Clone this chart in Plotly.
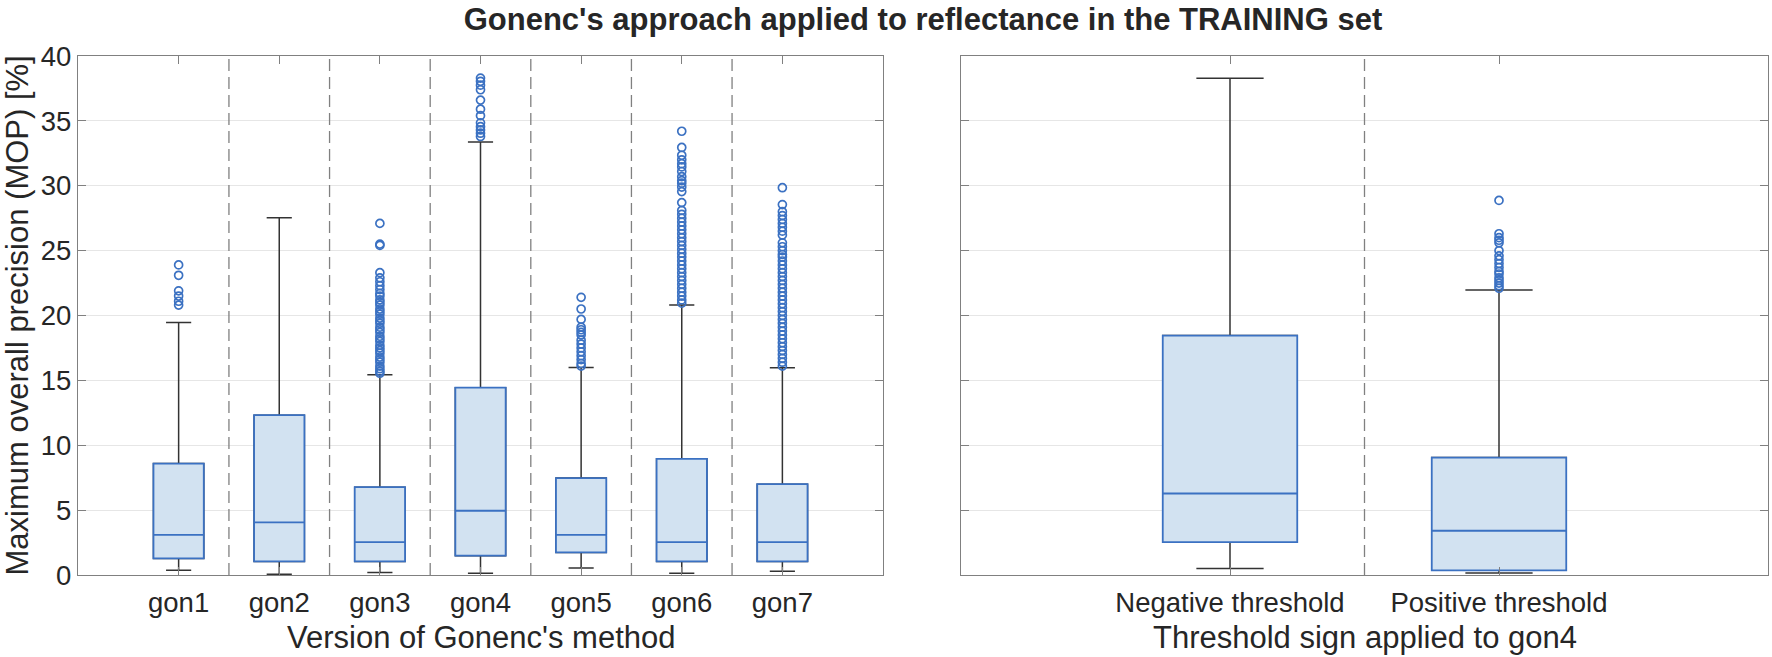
import plotly.graph_objects as go

# ---------------- data ----------------
left_cats = ["gon1", "gon2", "gon3", "gon4", "gon5", "gon6", "gon7"]
left_q1 = [1.28, 1.05, 1.05, 1.49, 1.74, 1.05, 1.05]
left_median = [3.1, 4.05, 2.54, 4.95, 3.1, 2.54, 2.54]
left_q3 = [8.59, 12.32, 6.77, 14.44, 7.47, 8.95, 7.0]
left_lower = [0.36, 0.05, 0.2, 0.13, 0.54, 0.13, 0.28]
left_upper = [19.47, 27.53, 15.44, 33.38, 16.0, 20.8, 15.98]

out_gon1 = [23.9, 23.1, 21.9, 21.5, 21.1, 20.8]
out_gon2 = []
out_gon3 = [27.1, 25.5, 25.4, 23.3, 22.9, 22.6, 22.3, 22.0, 21.7, 21.5, 21.2, 21.0,
            20.8, 20.5, 20.3, 20.1, 19.8, 19.6, 19.4, 19.1, 18.9, 18.7, 18.4, 18.2,
            18.0, 17.7, 17.5, 17.3, 17.1, 16.8, 16.6, 16.4, 16.1, 15.9, 15.7, 15.55]
out_gon4 = [38.3, 38.05, 37.75, 37.4, 36.6, 35.9, 35.4, 34.85, 34.55, 34.3, 34.05, 33.8]
out_gon5 = [21.4, 20.5, 19.7, 19.1, 18.9, 18.7, 18.5, 18.1, 17.8, 17.5, 17.2, 16.9,
            16.6, 16.3, 16.1]
out_gon6 = [34.2, 32.95, 32.35, 32.0, 31.7, 31.45, 31.1, 30.7, 30.4, 30.2, 29.9, 29.55,
            28.7, 28.1, 27.8, 27.5, 27.2, 26.9, 26.6, 26.3, 26.0, 25.7, 25.4, 25.1,
            24.8, 24.5, 24.2, 23.9, 23.6, 23.3, 23.0, 22.7, 22.4, 22.1, 21.8, 21.5,
            21.2, 20.95]
out_gon7 = [29.85, 28.55, 28.0, 27.7, 27.4, 27.1, 26.8, 26.5, 26.2, 25.6, 25.3, 25.0,
            24.7, 24.5, 24.2, 23.9, 23.6, 23.3, 23.0, 22.7, 22.4, 22.1, 21.8, 21.5,
            21.2, 20.9, 20.6, 20.3, 20.0, 19.7, 19.4, 19.1, 18.8, 18.5, 18.2, 17.9,
            17.6, 17.3, 17.0, 16.7, 16.4, 16.1]
left_outliers = [out_gon1, out_gon2, out_gon3, out_gon4, out_gon5, out_gon6, out_gon7]

right_cats = ["Negative threshold", "Positive threshold"]
right_q1 = [2.54, 0.36]
right_median = [6.28, 3.41]
right_q3 = [18.45, 9.05]
right_lower = [0.51, 0.15]
right_upper = [38.28, 21.96]
out_neg = []
out_pos = [28.87, 26.3, 26.0, 25.8, 25.6, 25.0, 24.6, 24.3, 24.0, 23.7, 23.4, 23.2,
           22.9, 22.7, 22.5, 22.3, 22.1]
right_outliers = [out_neg, out_pos]

title_text = "Gonenc's approach applied to reflectance in the TRAINING set"
y_title = "Maximum overall precision (MOP) [%]"
left_xtitle = "Version of Gonenc's method"
right_xtitle = "Threshold sign applied to gon4"
y_ticks = [0, 5, 10, 15, 20, 25, 30, 35, 40]

# ---------------- styling ----------------
FONT = "Liberation Sans, Arial, Helvetica, sans-serif"
TXT = "#262626"
BLUE = "#3b71c2"
FILL = "#d2e2f1"
WHISK = "#333333"
FRAME = "#808080"
GRID = "#e6e6e6"

W, H = 1772, 657
ML, MR, MT, MB = 78, 4, 56, 82
PW = W - ML - MR
PH = H - MT - MB

fig = go.Figure()


def add_group(cats, q1, med, q3, lo, hi, outs, xa, ya):
    # whiskers + caps (dark grey)
    fig.add_trace(go.Box(
        x=cats, q1=q1, median=med, q3=q3, lowerfence=lo, upperfence=hi,
        width=0.5, whiskerwidth=0.5, boxpoints=False,
        line=dict(color=WHISK, width=1.5), fillcolor="rgba(0,0,0,0)",
        xaxis=xa, yaxis=ya, showlegend=False, hoverinfo="skip"))
    # boxes + medians (blue)
    fig.add_trace(go.Box(
        x=cats, q1=q1, median=med, q3=q3, lowerfence=q1, upperfence=q3,
        width=0.5, whiskerwidth=0, boxpoints=False,
        line=dict(color=BLUE, width=1.8), fillcolor=FILL,
        xaxis=xa, yaxis=ya, showlegend=False, hoverinfo="skip"))
    ox, oy = [], []
    for c, vals in zip(cats, outs):
        ox += [c] * len(vals)
        oy += vals
    fig.add_trace(go.Scatter(
        x=ox, y=oy, mode="markers",
        marker=dict(symbol="circle-open", color=BLUE, size=8, line=dict(width=1.7, color=BLUE)),
        xaxis=xa, yaxis=ya, showlegend=False, hoverinfo="skip"))


add_group(left_cats, left_q1, left_median, left_q3, left_lower, left_upper, left_outliers, "x", "y")
add_group(right_cats, right_q1, right_median, right_q3, right_lower, right_upper, right_outliers, "x2", "y2")

# dashed separators between categories
shapes = []
for n, xr, yr in [(len(left_cats), "x", "y domain"), (len(right_cats), "x2", "y2 domain")]:
    for i in range(n - 1):
        shapes.append(dict(type="line", xref=xr, yref=yr, x0=i + 0.5, x1=i + 0.5, y0=0, y1=1,
                           line=dict(color=FRAME, width=1.3, dash="12px,6px"), layer="above"))

dom_left = [0, (883 - ML) / PW]
dom_right = [(961 - ML) / PW, 1]

xcommon = dict(type="category", showline=True, linecolor=FRAME, linewidth=1.3, mirror="ticks",
               ticks="inside", ticklen=8, tickcolor=FRAME, tickwidth=1, showgrid=False,
               tickfont=dict(family=FONT, size=27.5, color=TXT), ticklabelstandoff=3)
ycommon = dict(range=[0, 40], tickvals=y_ticks, showline=True, linecolor=FRAME, linewidth=1.3,
               mirror="ticks", ticks="inside", ticklen=8, tickcolor=FRAME, tickwidth=1,
               showgrid=True, gridcolor=GRID, gridwidth=1, zeroline=False,
               tickfont=dict(family=FONT, size=27.5, color=TXT))

fig.update_layout(
    width=W, height=H,
    margin=dict(l=ML, r=MR, t=MT, b=MB, autoexpand=False),
    paper_bgcolor="white", plot_bgcolor="white",
    boxmode="overlay",
    xaxis=dict(domain=dom_left, range=[-1, len(left_cats)], anchor="y",
               categoryorder="array", categoryarray=left_cats, **xcommon),
    xaxis2=dict(domain=dom_right, range=[-1, len(right_cats)], anchor="y2",
                categoryorder="array", categoryarray=right_cats, **xcommon),
    yaxis=dict(anchor="x", showticklabels=True, **ycommon),
    yaxis2=dict(anchor="x2", showticklabels=False, **ycommon),
    shapes=shapes,
    title=dict(text=title_text, x=0.5, xref="paper", xanchor="center",
               y=1 - 19 / H, yref="container", yanchor="middle",
               font=dict(family=FONT, size=31, color=TXT, weight="bold")),
    annotations=[
        dict(text=y_title, xref="paper", yref="paper", x=(17 - ML) / PW, y=0.5,
             xanchor="center", yanchor="middle", textangle=-90, showarrow=False,
             font=dict(family=FONT, size=31, color=TXT)),
        dict(text=left_xtitle, xref="paper", yref="paper", x=sum(dom_left) / 2,
             y=-(637 - (MT + PH)) / PH, xanchor="center", yanchor="middle", showarrow=False,
             font=dict(family=FONT, size=31, color=TXT)),
        dict(text=right_xtitle, xref="paper", yref="paper", x=sum(dom_right) / 2,
             y=-(637 - (MT + PH)) / PH, xanchor="center", yanchor="middle", showarrow=False,
             font=dict(family=FONT, size=31, color=TXT)),
    ],
)

fig.write_html("out.html",
               config={"displayModeBar": False},
               post_script="document.body.style.margin='0';document.body.style.overflow='hidden';")
